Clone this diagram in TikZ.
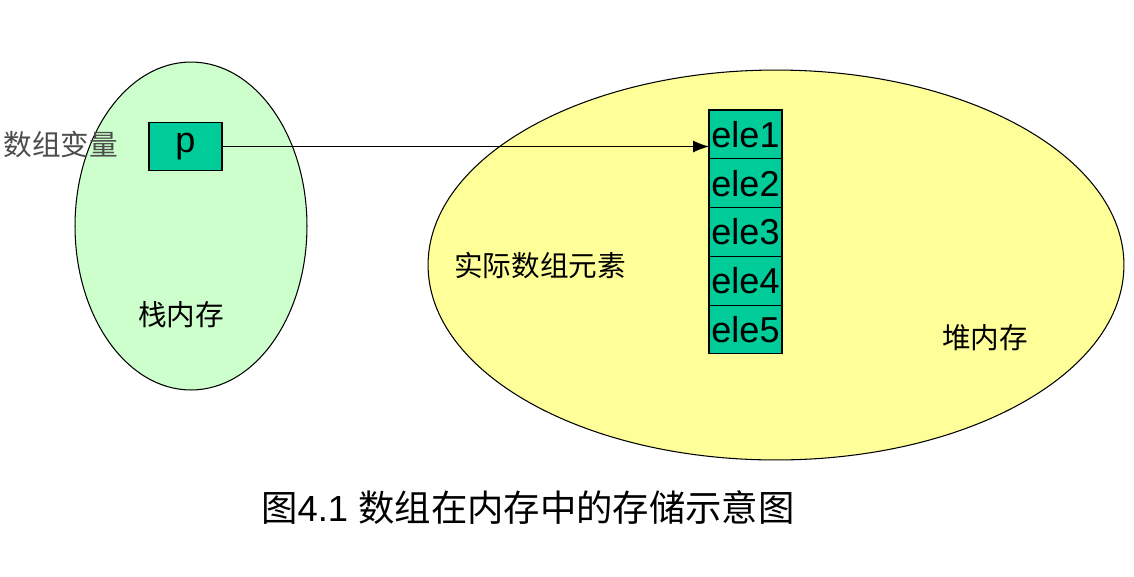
\documentclass[tikz,border=0pt]{standalone}
\usepackage{fontspec}
\setmainfont{Liberation Sans}
\newfontfamily\cjk{Noto Sans CJK SC}
\usetikzlibrary{arrows.meta,positioning,calc,shapes.geometric}

\definecolor{stackgreen}{HTML}{CCFFCC}
\definecolor{heapyellow}{HTML}{FFFF99}
\definecolor{cellgreen}{HTML}{00CC99}

\begin{document}
\begin{tikzpicture}[
    x=0.02cm, y=-0.02cm,
    mem/.style={ellipse, draw, line width=0.6pt, inner sep=0pt},
    cell/.style={rectangle, draw, line width=0.6pt, fill=cellgreen, outer sep=0pt, minimum width=1.46cm, minimum height=0.976cm, inner sep=0pt, font=\fontsize{20.5}{20.5}\selectfont},
    lbl/.style={font=\cjk\fontsize{16.3}{16.3}\selectfont, inner sep=0pt},
]
    \useasboundingbox (0,0) rectangle (1134,576);
    \node[mem, fill=stackgreen, minimum width=4.64cm, minimum height=6.56cm] (stack) at (191,226) {};
    \node[mem, fill=heapyellow, minimum width=13.92cm, minimum height=7.8cm] (heap) at (776,265) {};

    \node[lbl, text=black!70] (varname) at (61,145) {数组变量};
    \node[cell] (p) at (185.5,146.5) {p};

    % array cells
    \node[cell, anchor=north] (ele1) at (745.5,110) {ele1};
    \foreach \i [remember=\i as \j (initially 1)] in {2,...,5}
        \node[cell, below=0pt of ele\j] (ele\i) {ele\i};

    \draw[line width=0.6pt, -{Latex[length=3.2mm,width=2.4mm]}] (p.east) -- (p.east -| ele1.west);

    \node[lbl] (stacklbl) at (181,315) {栈内存};
    \node[lbl] (arrlbl) at (540,266) {实际数组元素};
    \node[lbl] (heaplbl) at (985,338) {堆内存};
    \node[font=\fontsize{20.7}{20.7}\selectfont, inner sep=0pt] (caption) at (528,508) {{\cjk 图}4.1 {\cjk 数组在内存中的存储示意图}};
\end{tikzpicture}
\end{document}
